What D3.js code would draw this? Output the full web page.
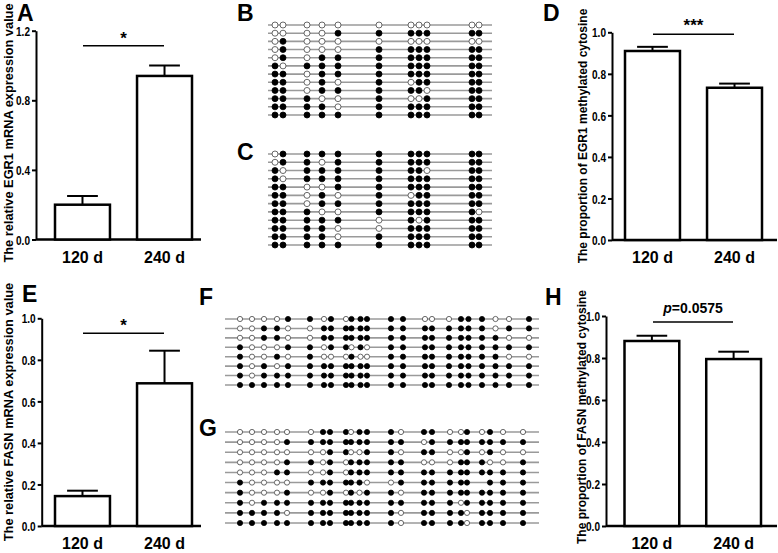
<!DOCTYPE html>
<html><head><meta charset="utf-8">
<script src="https://cdn.jsdelivr.net/npm/d3@7"></script>
<style>
body{margin:0;background:#fff}
svg{display:block}
text{font-family:"Liberation Sans",Arial,sans-serif;font-weight:bold;fill:#000}
</style>
</head><body>
<svg id="c" width="778" height="553"></svg>
<script>
// ---------- data ----------
const groups = ["120 d", "240 d"];
const egr1Expr = [0.20, 0.94];
const egr1ExprErr = [0.05, 0.06];
const egr1Meth = [0.91, 0.733];
const egr1MethErr = [0.02, 0.02];
const fasnExpr = [0.144, 0.687];
const fasnExprErr = [0.026, 0.157];
const fasnMeth = [0.881, 0.795];
const fasnMethErr = [0.025, 0.035];
const ticksEGR1Expr = [0, 0.4, 0.8, 1.2];
const ticksUnit = [0, 0.2, 0.4, 0.6, 0.8, 1.0];

// relative CpG positions along the amplicon (arbitrary units)
const egr1CpG = [7, 15, 39, 54, 70, 111, 143, 151, 159, 204, 211];
const egr1Len = 224;
// 1 = methylated (filled), 0 = unmethylated (open), - = not determined
const egr1CloneB = [
  "00000000000","00001111111","01000000000","01000111111",
  "01011111111","10111111111","11011111111","11010101111",
  "11011111011","11100100111","11110111111","11111111111"];
const egr1CloneC = [
  "01111111111","01101111111","10111111011","10111111111",
  "11001111111","11010101111","11011111111","11100111110",
  "11111010111","11110011111","11110111111","11111111111"];

const fasnCpGF = [15, 27, 39, 52, 63, 85, 99, 106, 121, 126.5, 135.5, 142, 166, 178, 200, 207, 224, 236, 243.5, 257, 270.5, 284, 304];
const fasnCpGG = [15, 27, 39, 52, 62, 86, 98, 105, 121, 126, 134.5, 142, 166, 176, 199, 207, 225, 236, 242, 257, 265, 278, 298];
const fasnLen = 314;
const fasnCloneF = [
  "00001101011111000111001",
  "00110011111111111111011",
  "00110011111111111111100",
  "10001101101011111111111",
  "10010100010011111111100",
  "10101111111111111111111",
  "10111111111111111111111",
  "11111111111111111111111"];
const fasnCloneG = [
  "00000011101110110010100",
  "00001111111111011111111",
  "00000001100110110010100",
  "00001101011111000111001",
  "00011001011111111111111",
  "1000011111100111111-111",
  "10001001010110111111111",
  "10111111111111111011111",
  "11110111111110111101111",
  "11111111111110111101111"];

// ---------- drawing ----------
const svg = d3.select("#c");
svg.append("rect").attr("width", 778).attr("height", 553).attr("fill", "#fff");

function barPanel(o) {
  const y = d3.scaleLinear().domain([0, o.max]).range([o.yb, o.yt]);
  const x = d3.scaleBand().domain(groups).range([o.b0, o.b1]).paddingInner(0.33);
  const g = svg.append("g");

  const ax = g.append("g").attr("transform", `translate(${o.ax},0)`)
    .call(d3.axisLeft(y).tickValues(o.ticks).tickFormat(d3.format(".1f"))
      .tickSize(4).tickSizeOuter(0).tickPadding(2));
  ax.attr("font-family", null).attr("font-size", null);
  ax.select(".domain").attr("stroke", "#000").attr("stroke-width", 2);
  ax.selectAll(".tick line").attr("stroke", "#000").attr("stroke-width", 2);
  ax.selectAll(".tick text").attr("font-size", 13).attr("fill", "#000")
    .attr("textLength", 14).attr("lengthAdjust", "spacingAndGlyphs").attr("dy", "0.36em");

  // x axis line
  g.append("line").attr("x1", o.ax).attr("x2", o.xEnd).attr("y1", o.yb).attr("y2", o.yb)
    .attr("stroke", "#000").attr("stroke-width", 2.5);

  const data = groups.map((k, i) => ({k, v: o.vals[i], e: o.errs[i]}));
  const bw = x.bandwidth();
  // error bars (upper only)
  g.selectAll(".eb").data(data).join("line")
    .attr("x1", d => x(d.k) + bw / 2).attr("x2", d => x(d.k) + bw / 2)
    .attr("y1", d => y(d.v)).attr("y2", d => y(d.v + d.e))
    .attr("stroke", "#000").attr("stroke-width", 2);
  g.selectAll(".ec").data(data).join("line")
    .attr("x1", d => x(d.k) + bw * 0.22).attr("x2", d => x(d.k) + bw * 0.78)
    .attr("y1", d => y(d.v + d.e)).attr("y2", d => y(d.v + d.e))
    .attr("stroke", "#000").attr("stroke-width", 2);
  g.selectAll(".bar").data(data).join("rect")
    .attr("x", d => x(d.k)).attr("width", bw)
    .attr("y", d => y(d.v)).attr("height", d => o.yb - y(d.v))
    .attr("fill", "#fff").attr("stroke", "#000").attr("stroke-width", 2.5);

  g.selectAll(".xl").data(data).join("text")
    .attr("x", d => x(d.k) + bw / 2).attr("y", o.yb + 23)
    .attr("text-anchor", "middle").attr("font-size", 16).text(d => d.k);

  // significance
  g.append("line").attr("x1", o.s0).attr("x2", o.s1).attr("y1", o.sy).attr("y2", o.sy)
    .attr("stroke", "#000").attr("stroke-width", 1.5);
  const st = g.append("text").attr("x", (o.s0 + o.s1) / 2).attr("y", o.sty)
    .attr("text-anchor", "middle").attr("font-size", o.sfs);
  if (o.sig.startsWith("p=")) {
    st.append("tspan").attr("font-style", "italic").text("p");
    st.append("tspan").text(o.sig.slice(1));
  } else st.text(o.sig);

  g.append("text").attr("transform", `translate(${o.tx},${o.ty}) rotate(-90)`)
    .attr("text-anchor", "middle").attr("font-size", o.tfs).text(o.title);
}

function clonePanel(o) {
  const x = d3.scaleLinear().domain([0, o.len]).range([o.x0, o.x1]);
  const y = d3.scalePoint().domain(d3.range(o.rows.length)).range([o.y0, o.y1]);
  const g = svg.append("g");
  g.selectAll("line").data(o.rows).join("line")
    .attr("x1", x(0)).attr("x2", x(o.len))
    .attr("y1", (d, i) => y(i)).attr("y2", (d, i) => y(i))
    .attr("stroke", "#9a9a9a").attr("stroke-width", 1.6);
  const pts = [];
  o.rows.forEach((r, i) => r.split("").forEach((c, j) => {
    if (c !== "-") pts.push({i, j, m: c === "1"});
  }));
  g.selectAll("circle").data(pts).join("circle")
    .attr("cx", d => x(o.pos[d.j])).attr("cy", d => y(d.i)).attr("r", o.r)
    .attr("fill", d => d.m ? "#000" : "#fff")
    .attr("stroke", d => d.m ? "#000" : "#444").attr("stroke-width", 0.8);
}

barPanel({ax: 36, yb: 239.5, yt: 30.7, max: 1.2, ticks: ticksEGR1Expr, xEnd: 201,
  b0: 55, b1: 192, vals: egr1Expr, errs: egr1ExprErr,
  s0: 83, s1: 164, sy: 45.7, sig: "*", sty: 44, sfs: 17,
  tx: 13, ty: 133, tfs: 12.8, title: "The relative EGR1 mRNA expression value"});
barPanel({ax: 612, yb: 240, yt: 32.3, max: 1.0, ticks: ticksUnit, xEnd: 777,
  b0: 625, b1: 762, vals: egr1Meth, errs: egr1MethErr,
  s0: 653, s1: 734, sy: 34.3, sig: "***", sty: 31, sfs: 17,
  tx: 587, ty: 136, tfs: 12, title: "The proportion of EGR1 methylated cytosine"});
barPanel({ax: 41.7, yb: 526, yt: 318.3, max: 1.0, ticks: ticksUnit, xEnd: 201,
  b0: 55, b1: 192, vals: fasnExpr, errs: fasnExprErr,
  s0: 83, s1: 164, sy: 333.3, sig: "*", sty: 331, sfs: 17,
  tx: 13, ty: 412, tfs: 12.8, title: "The relative FASN mRNA expression value"});
barPanel({ax: 606, yb: 526, yt: 316, max: 1.0, ticks: ticksUnit, xEnd: 777,
  b0: 624.5, b1: 761, vals: fasnMeth, errs: fasnMethErr,
  s0: 653, s1: 733, sy: 322, sig: "p=0.0575", sty: 313, sfs: 14,
  tx: 586, ty: 417, tfs: 12, title: "The proportion of FASN methylated cytosine"});

clonePanel({rows: egr1CloneB, pos: egr1CpG, len: egr1Len, x0: 268, x1: 492, y0: 25, y1: 115, r: 3});
clonePanel({rows: egr1CloneC, pos: egr1CpG, len: egr1Len, x0: 268, x1: 492, y0: 154, y1: 245, r: 3});
clonePanel({rows: fasnCloneF, pos: fasnCpGF, len: fasnLen, x0: 225, x1: 539, y0: 319, y1: 385, r: 2.6});
clonePanel({rows: fasnCloneG, pos: fasnCpGG, len: fasnLen, x0: 225, x1: 539, y0: 432, y1: 523, r: 2.6});

// panel letters
const letters = [["A", 17, 21], ["B", 237, 21], ["C", 237, 160], ["D", 543, 21],
                 ["E", 22, 302], ["F", 199, 305], ["G", 199, 436], ["H", 545, 305]];
svg.selectAll(".pl").data(letters).join("text")
  .attr("x", d => d[1]).attr("y", d => d[2]).attr("font-size", 23).text(d => d[0]);
</script>
</body></html>
